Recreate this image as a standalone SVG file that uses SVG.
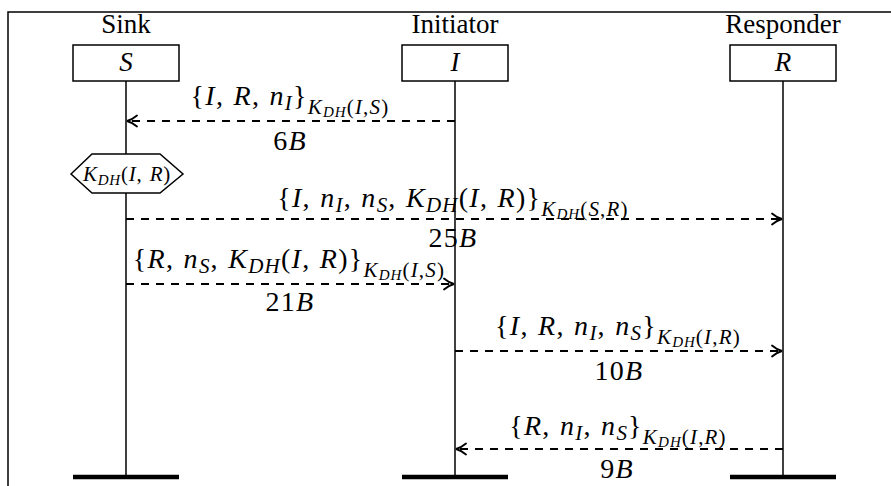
<svg xmlns="http://www.w3.org/2000/svg" width="891" height="486" viewBox="0 0 891 486">
<style>
text{font-family:"Liberation Serif","Times New Roman",serif;fill:#000}
.t{font-size:27px;text-anchor:middle}
.m{font-size:28px;text-anchor:middle;letter-spacing:1.3px;word-spacing:1px}
.h{font-size:21px;text-anchor:middle;letter-spacing:0.8px;word-spacing:1px}
.i{font-style:italic}
.s{font-size:21px;letter-spacing:1.2px}
.ss{font-size:15px;letter-spacing:1px}
.hs{font-size:15px}
.box{fill:#fff;stroke:#000;stroke-width:1.5}
.life{stroke:#000;stroke-width:1.5}
.bar{stroke:#000;stroke-width:4.5}
.msg{stroke:#000;stroke-width:1.8;stroke-dasharray:8 7;fill:none;marker-end:url(#arr)}
</style>
<defs>
<marker id="arr" markerUnits="userSpaceOnUse" markerWidth="20" markerHeight="20" viewBox="-12 -10 14 20" refX="0" refY="0" orient="auto">
<path d="M-10,-5.5 Q-5,-1.2 0,0 Q-5,1.2 -10,5.5" fill="none" stroke="#000" stroke-width="1.8" stroke-linecap="round"/>
</marker>
</defs>
<path d="M8,486 V12 H891" fill="none" stroke="#000" stroke-width="1.5"/>
<g id="sink">
<text class="t" x="126" y="33">Sink</text>
<line class="life" x1="126" y1="81" x2="126" y2="477"/>
<rect class="box" x="73" y="45" width="106" height="36"/>
<text class="t i" x="126" y="71">S</text>
<line class="bar" x1="73" y1="477" x2="179" y2="477"/>
</g>
<g id="initiator">
<text class="t" x="455" y="33">Initiator</text>
<line class="life" x1="455" y1="81" x2="455" y2="477"/>
<rect class="box" x="402" y="45" width="106" height="36"/>
<text class="t i" x="455" y="71">I</text>
<line class="bar" x1="402" y1="477" x2="508" y2="477"/>
</g>
<g id="responder">
<text class="t" x="783" y="33">Responder</text>
<line class="life" x1="783" y1="81" x2="783" y2="477"/>
<rect class="box" x="730" y="45" width="106" height="36"/>
<text class="t i" x="783" y="71">R</text>
<line class="bar" x1="730" y1="477" x2="836" y2="477"/>
</g>
<g id="key-sink">
<polygon points="71,174 92,154 160,154 183,174 160,193 92,193" fill="#fff" stroke="#000" stroke-width="1.5"/>
<text class="h" x="127" y="181"><tspan class="i">K</tspan><tspan class="i hs" dy="4">DH</tspan><tspan dy="-4">(</tspan><tspan class="i">I</tspan>, <tspan class="i">R</tspan>)</text>
</g>
<g id="connectors">
<line class="msg" x1="455" y1="121" x2="127" y2="121"/>
<line class="msg" x1="126" y1="219" x2="782" y2="219"/>
<line class="msg" x1="126" y1="284" x2="454" y2="284"/>
<line class="msg" x1="455" y1="351" x2="782" y2="351"/>
<line class="msg" x1="783" y1="449" x2="456" y2="449"/>
</g>
<g id="labels">
<text class="m" x="290" y="105">{<tspan class="i">I</tspan>, <tspan class="i">R</tspan>, <tspan class="i">n</tspan><tspan class="i s" dy="5">I</tspan><tspan dy="-5">}</tspan><tspan class="i s" dy="9">K</tspan><tspan class="i ss" dy="3">DH</tspan><tspan class="s" dy="-3">(</tspan><tspan class="i s">I</tspan><tspan class="s">,</tspan><tspan class="i s">S</tspan><tspan class="s">)</tspan></text>
<text class="m" x="290" y="150">6<tspan class="i">B</tspan></text>
<text class="m" x="453" y="207">{<tspan class="i">I</tspan>, <tspan class="i">n</tspan><tspan class="i s" dy="5">I</tspan><tspan dy="-5">, </tspan><tspan class="i">n</tspan><tspan class="i s" dy="5">S</tspan><tspan dy="-5">, </tspan><tspan class="i">K</tspan><tspan class="i s" dy="5">DH</tspan><tspan dy="-5">(</tspan><tspan class="i">I</tspan>, <tspan class="i">R</tspan>)}<tspan class="i s" dy="9">K</tspan><tspan class="i ss" dy="3">DH</tspan><tspan class="s" dy="-3">(</tspan><tspan class="i s">S</tspan><tspan class="s">,</tspan><tspan class="i s">R</tspan><tspan class="s">)</tspan></text>
<text class="m" x="453" y="247">25<tspan class="i">B</tspan></text>
<text class="m" x="289" y="268">{<tspan class="i">R</tspan>, <tspan class="i">n</tspan><tspan class="i s" dy="5">S</tspan><tspan dy="-5">, </tspan><tspan class="i">K</tspan><tspan class="i s" dy="5">DH</tspan><tspan dy="-5">(</tspan><tspan class="i">I</tspan>, <tspan class="i">R</tspan>)}<tspan class="i s" dy="9">K</tspan><tspan class="i ss" dy="3">DH</tspan><tspan class="s" dy="-3">(</tspan><tspan class="i s">I</tspan><tspan class="s">,</tspan><tspan class="i s">S</tspan><tspan class="s">)</tspan></text>
<text class="m" x="290" y="311">21<tspan class="i">B</tspan></text>
<text class="m" x="618" y="335">{<tspan class="i">I</tspan>, <tspan class="i">R</tspan>, <tspan class="i">n</tspan><tspan class="i s" dy="5">I</tspan><tspan dy="-5">, </tspan><tspan class="i">n</tspan><tspan class="i s" dy="5">S</tspan><tspan dy="-5">}</tspan><tspan class="i s" dy="9">K</tspan><tspan class="i ss" dy="3">DH</tspan><tspan class="s" dy="-3">(</tspan><tspan class="i s">I</tspan><tspan class="s">,</tspan><tspan class="i s">R</tspan><tspan class="s">)</tspan></text>
<text class="m" x="619" y="380">10<tspan class="i">B</tspan></text>
<text class="m" x="618" y="435">{<tspan class="i">R</tspan>, <tspan class="i">n</tspan><tspan class="i s" dy="5">I</tspan><tspan dy="-5">, </tspan><tspan class="i">n</tspan><tspan class="i s" dy="5">S</tspan><tspan dy="-5">}</tspan><tspan class="i s" dy="9">K</tspan><tspan class="i ss" dy="3">DH</tspan><tspan class="s" dy="-3">(</tspan><tspan class="i s">I</tspan><tspan class="s">,</tspan><tspan class="i s">R</tspan><tspan class="s">)</tspan></text>
<text class="m" x="617" y="478">9<tspan class="i">B</tspan></text>
</g>
</svg>
